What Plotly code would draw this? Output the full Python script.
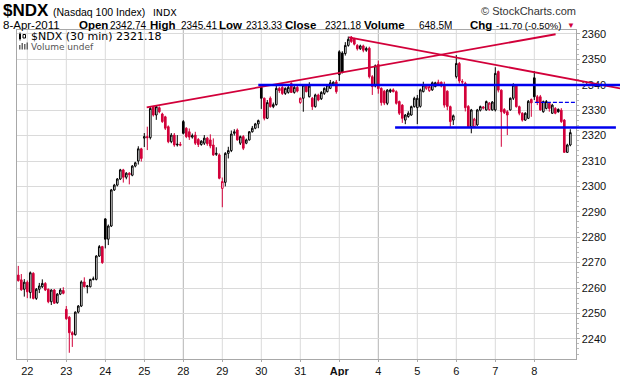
import plotly.graph_objects as go

# ---------------- data ----------------
day_labels = ['22', '23', '24', '25', '28', '29', '30', '31', '<b>Apr</b>', '4', '5', '6', '7', '8']
day_start = [3, 16, 29, 42, 55, 68, 81, 94, 107, 120, 133, 146, 159, 172]
week_start = [55, 120]
y_ticks = [2240, 2250, 2260, 2270, 2280, 2290, 2300, 2310, 2320, 2330, 2340, 2350, 2360]

bar_open = [
    2265.1, 2263.2, 2259.5,
    2262.3, 2258.2, 2265.8, 2255.9, 2259.5, 2260.5, 2261.8, 2259.5, 2254.6, 2259.2, 2254.2, 2257.6, 2259.0,
    2251.6, 2248.5, 2242.4, 2241.6, 2250.5, 2252.9, 2262.4, 2260.5, 2260.5, 2263.4, 2263.4, 2272.6, 2276.3,
    2287.2, 2279.2, 2284.4, 2298.6, 2300.5, 2302.9, 2306.5, 2303.6, 2305.2, 2304.4, 2308.0, 2310.0, 2314.8,
    2319.0, 2319.6, 2319.2, 2331.4, 2328.1, 2331.0, 2328.5, 2327.4, 2323.5, 2317.6, 2320.2, 2316.3, 2316.2,
    2325.5, 2322.9, 2321.5, 2319.4, 2320.2, 2318.5, 2316.5, 2317.0, 2319.0, 2318.3, 2316.3, 2312.6, 2312.4,
    2299.2, 2301.6, 2313.0, 2314.1, 2320.9, 2322.2, 2317.0, 2319.6, 2317.0, 2318.3, 2321.5, 2322.9, 2324.6,
    2339.0, 2334.7, 2326.8, 2334.7, 2331.4, 2332.2, 2338.6, 2339.0, 2336.6, 2337.0, 2340.5, 2337.0, 2339.0,
    2333.0, 2334.7, 2339.9, 2335.3, 2334.7, 2331.4, 2336.0, 2334.5, 2336.6, 2337.3, 2338.6, 2339.8, 2341.1,
    2353.0, 2352.5, 2352.3, 2355.5, 2358.8, 2358.2, 2355.5, 2354.2, 2355.3, 2353.6, 2354.4, 2343.2, 2339.5,
    2348.0, 2338.6, 2337.5, 2332.7, 2337.3, 2338.0, 2337.3, 2333.4, 2332.0, 2326.1, 2327.5, 2328.1, 2331.4,
    2331.0, 2331.5, 2337.3, 2338.6, 2337.7, 2338.0, 2339.3, 2341.0, 2341.0, 2340.0, 2337.5, 2331.4, 2326.1,
    2343.2, 2348.4, 2341.0, 2340.6, 2331.5, 2323.5, 2323.5, 2324.2, 2330.0, 2330.8, 2330.1, 2330.2, 2330.1,
    2330.1, 2345.2, 2337.9, 2330.3, 2329.4, 2330.1, 2334.7, 2339.9, 2331.4, 2328.8, 2326.1, 2326.8, 2334.2,
    2342.74, 2335.3, 2335.3, 2329.4, 2330.7, 2332.7, 2328.8, 2330.7, 2330.3, 2330.0, 2326.1, 2313.4, 2316.3,
]
bar_high = [
    2268.7, 2265.5, 2263.5,
    2263.0, 2266.5, 2266.2, 2260.0, 2262.0, 2263.4, 2262.3, 2259.8, 2259.5, 2259.6, 2258.0, 2259.9, 2260.3,
    2252.9, 2249.0, 2243.0, 2250.8, 2253.3, 2263.0, 2264.2, 2261.2, 2263.6, 2264.5, 2272.9, 2276.9, 2276.6,
    2287.5, 2285.0, 2299.0, 2301.0, 2303.3, 2306.9, 2306.9, 2305.6, 2305.6, 2308.4, 2309.7, 2315.8, 2315.2,
    2321.0, 2323.5, 2331.4, 2331.7, 2332.0, 2331.5, 2329.0, 2327.8, 2324.0, 2321.0, 2321.0, 2320.2, 2317.5,
    2326.1, 2323.3, 2322.8, 2320.8, 2321.5, 2319.0, 2318.2, 2320.2, 2319.5, 2320.5, 2318.9, 2315.4, 2313.0,
    2303.5, 2313.5, 2315.6, 2322.0, 2322.5, 2322.8, 2320.0, 2320.2, 2318.8, 2321.8, 2323.8, 2325.0, 2326.3,
    2339.5, 2335.0, 2334.0, 2335.4, 2333.0, 2340.0, 2339.2, 2339.5, 2339.0, 2340.0, 2341.0, 2339.5, 2340.0,
    2335.0, 2340.2, 2340.3, 2341.0, 2335.2, 2336.5, 2336.5, 2337.5, 2339.0, 2340.3, 2341.9, 2341.4, 2341.9,
    2353.6, 2353.2, 2356.8, 2359.0, 2359.2, 2358.5, 2356.0, 2355.8, 2355.8, 2355.0, 2355.0, 2343.8, 2348.0,
    2349.5, 2339.0, 2338.0, 2338.3, 2338.5, 2338.6, 2337.8, 2333.8, 2332.4, 2328.5, 2329.6, 2331.8, 2335.3,
    2336.0, 2338.5, 2341.2, 2340.0, 2339.8, 2341.3, 2341.2, 2342.0, 2341.3, 2341.2, 2337.8, 2331.8, 2328.3,
    2351.7, 2349.0, 2342.2, 2341.2, 2332.0, 2330.5, 2327.0, 2330.5, 2331.8, 2331.6, 2333.8, 2333.2, 2333.6,
    2346.9, 2345.6, 2338.2, 2330.8, 2330.0, 2335.0, 2340.6, 2340.3, 2331.8, 2329.2, 2329.2, 2334.0, 2334.6,
    2345.41, 2336.0, 2336.0, 2333.8, 2334.0, 2333.2, 2332.5, 2331.2, 2330.7, 2330.8, 2326.5, 2316.8, 2322.5,
]
bar_low = [
    2262.5, 2258.9, 2256.6,
    2256.0, 2255.9, 2255.5, 2255.3, 2258.0, 2260.0, 2258.8, 2254.0, 2253.3, 2253.8, 2253.8, 2257.2, 2257.5,
    2247.5, 2234.5, 2236.8, 2241.3, 2250.0, 2252.5, 2260.2, 2257.9, 2260.2, 2263.0, 2263.0, 2272.2, 2269.5,
    2275.6, 2276.9, 2284.0, 2298.2, 2300.0, 2302.5, 2301.5, 2302.8, 2300.8, 2304.0, 2307.5, 2308.6, 2309.8,
    2315.5, 2314.3, 2318.5, 2327.5, 2326.2, 2328.8, 2325.0, 2322.2, 2317.0, 2317.0, 2315.6, 2315.7, 2315.8,
    2320.5, 2319.0, 2318.3, 2318.8, 2316.3, 2315.5, 2316.0, 2316.3, 2316.0, 2315.0, 2312.0, 2312.0, 2302.8,
    2291.8, 2300.0, 2311.0, 2313.5, 2320.0, 2318.0, 2316.3, 2314.3, 2316.6, 2318.0, 2321.2, 2322.5, 2322.9,
    2330.5, 2326.0, 2326.5, 2331.0, 2330.8, 2331.8, 2336.8, 2336.0, 2336.0, 2336.5, 2336.8, 2336.5, 2337.0,
    2332.5, 2329.4, 2337.0, 2335.0, 2330.1, 2331.0, 2333.5, 2334.0, 2336.0, 2337.0, 2338.3, 2339.5, 2336.5,
    2341.5, 2344.5, 2351.5, 2355.0, 2356.5, 2355.5, 2353.5, 2353.7, 2352.8, 2353.0, 2342.5, 2336.0, 2339.0,
    2336.5, 2331.8, 2332.0, 2332.0, 2336.8, 2337.0, 2332.2, 2328.1, 2325.0, 2324.5, 2327.0, 2327.8, 2331.0,
    2324.5, 2331.0, 2337.0, 2338.0, 2337.2, 2337.6, 2339.0, 2339.6, 2339.0, 2331.0, 2330.0, 2323.5, 2324.2,
    2342.5, 2340.5, 2339.8, 2329.5, 2323.0, 2320.9, 2323.0, 2323.8, 2329.5, 2330.3, 2329.8, 2329.8, 2329.8,
    2329.5, 2337.0, 2315.6, 2328.5, 2320.2, 2329.8, 2334.0, 2331.0, 2328.0, 2325.5, 2325.8, 2326.5, 2327.4,
    2334.0, 2332.0, 2329.8, 2329.0, 2330.3, 2329.4, 2328.5, 2328.4, 2329.0, 2325.0, 2313.33, 2313.33, 2315.8,
]
bar_close = [
    2262.9, 2259.3, 2262.3,
    2258.5, 2266.0, 2255.9, 2259.5, 2260.8, 2261.8, 2259.2, 2254.6, 2259.2, 2254.0, 2257.6, 2259.2, 2257.9,
    2247.9, 2242.4, 2241.6, 2250.5, 2252.9, 2262.4, 2260.5, 2260.8, 2263.4, 2263.6, 2272.6, 2276.3, 2270.0,
    2279.2, 2284.4, 2298.6, 2300.5, 2302.9, 2306.5, 2303.6, 2305.2, 2304.6, 2308.0, 2309.3, 2314.8, 2311.0,
    2319.6, 2319.2, 2330.7, 2328.1, 2331.4, 2329.4, 2325.5, 2322.9, 2317.6, 2320.2, 2316.3, 2316.6, 2316.5,
    2320.9, 2319.6, 2319.4, 2320.0, 2317.0, 2316.5, 2317.8, 2319.0, 2316.8, 2315.9, 2312.4, 2313.0, 2303.2,
    2301.9, 2313.0, 2314.1, 2320.6, 2321.5, 2318.3, 2319.6, 2315.0, 2318.3, 2321.5, 2322.9, 2324.6, 2325.9,
    2334.7, 2326.8, 2333.0, 2331.4, 2332.2, 2338.6, 2337.7, 2336.6, 2338.6, 2339.0, 2337.0, 2339.0, 2337.5,
    2334.7, 2339.9, 2337.3, 2339.5, 2331.4, 2336.0, 2334.0, 2337.0, 2338.6, 2339.9, 2340.8, 2341.0, 2337.3,
    2344.0, 2345.0, 2355.5, 2357.9, 2357.0, 2356.0, 2354.2, 2355.3, 2353.6, 2354.3, 2343.2, 2339.3, 2347.5,
    2338.5, 2333.0, 2332.8, 2337.9, 2338.0, 2337.3, 2332.7, 2328.8, 2326.8, 2328.1, 2328.8, 2331.4, 2334.7,
    2334.7, 2338.0, 2339.9, 2339.5, 2339.3, 2340.8, 2340.8, 2340.0, 2339.5, 2332.0, 2331.5, 2325.5, 2327.8,
    2348.4, 2341.5, 2341.3, 2331.0, 2323.5, 2330.1, 2326.5, 2330.1, 2331.4, 2331.2, 2333.4, 2332.8, 2333.2,
    2344.5, 2337.9, 2329.4, 2329.0, 2328.1, 2334.7, 2339.9, 2331.4, 2328.8, 2326.1, 2328.8, 2333.5, 2332.88,
    2335.3, 2333.0, 2330.1, 2333.4, 2333.4, 2330.7, 2332.0, 2328.8, 2329.4, 2325.5, 2313.4, 2316.3, 2321.18,
]

# trend lines drawn on the chart (bar index, price)
rise_x, rise_y = [42.8, 179.1], [2331.1, 2359.9]
fall_x, fall_y = [110.2, 200.6], [2358.7, 2338.6]
resist_x, resist_y = [80.0, 200.6], [2339.9, 2339.9]
support_x, support_y = [125.6, 199.2], [2323.2, 2323.2]
dash_x, dash_y = [172.2, 185.8], [2333.1, 2333.1]

# ---------------- figure ----------------
RED = '#d2003a'
BLUE = '#0000ee'
W, H = 620, 376
PT, PB = 30, 359           # plot top / bottom pixel
PL, PR = 16.5, 575.5       # plot left / right pixel
BAR_PX = 3.0
X0_PX = 18.3               # pixel of bar 0

n = len(bar_close)
xs = list(range(n))
is_red = [True] + [bar_close[i] < bar_close[i - 1] for i in range(1, n)]


def subset(flag):
    idx = [i for i in range(n) if is_red[i] == flag]
    return ([xs[i] for i in idx], [bar_open[i] for i in idx], [bar_high[i] for i in idx],
            [bar_low[i] for i in idx], [bar_close[i] for i in idx])


fig = go.Figure()
for flag, col in [(False, 'black'), (True, RED)]:
    x_, o_, h_, l_, c_ = subset(flag)
    fig.add_trace(go.Candlestick(
        x=x_, open=o_, high=h_, low=l_, close=c_,
        increasing=dict(line=dict(color=col, width=1), fillcolor='white'),
        decreasing=dict(line=dict(color=col, width=1), fillcolor=col),
        whiskerwidth=0, showlegend=False, hoverinfo='skip',
        xaxis='x', yaxis='y'))

for lx, ly, col, wd, dash in [(rise_x, rise_y, RED, 1.8, 'solid'),
                              (fall_x, fall_y, RED, 1.8, 'solid'),
                              (resist_x, resist_y, BLUE, 2.6, 'solid'),
                              (support_x, support_y, BLUE, 2.6, 'solid'),
                              (dash_x, dash_y, BLUE, 1.2, '4px,2px')]:
    fig.add_trace(go.Scatter(x=lx, y=ly, mode='lines', xaxis='x2', yaxis='y2',
                             line=dict(color=col, width=wd, dash=dash),
                             showlegend=False, hoverinfo='skip'))

xr0 = (PL - X0_PX) / BAR_PX
xr1 = xr0 + (PR - PL) / BAR_PX
x2r0 = (0 - X0_PX) / BAR_PX
x2r1 = x2r0 + W / BAR_PX
Y_TOP, Y_BOT = 2361.57, 2232.05

shapes = []
for ds in day_start:
    shapes.append(dict(type='line', xref='x', yref='paper', x0=ds, x1=ds, y0=0, y1=1,
                       line=dict(color='#b4b4b4' if ds in week_start else '#dadada', width=1),
                       layer='below'))


def px(x):
    return x / W


def py(y):
    return (PB - y) / (PB - PT)


# legend icons (decoration)
shapes += [
    dict(type='rect', xref='paper', yref='paper', x0=px(19), x1=px(21), y0=py(39), y1=py(34),
         fillcolor='black', line=dict(width=0)),
    dict(type='line', xref='paper', yref='paper', x0=px(20), x1=px(20), y0=py(40.5), y1=py(32.5),
         line=dict(color='black', width=1)),
    dict(type='rect', xref='paper', yref='paper', x0=px(23), x1=px(25.5), y0=py(38), y1=py(34.5),
         fillcolor='white', line=dict(color='black', width=1)),
    dict(type='rect', xref='paper', yref='paper', x0=px(19), x1=px(20.5), y0=py(49.5), y1=py(45),
         fillcolor='#666', line=dict(width=0)),
    dict(type='rect', xref='paper', yref='paper', x0=px(21.5), x1=px(23), y0=py(49.5), y1=py(43),
         fillcolor='#666', line=dict(width=0)),
    dict(type='rect', xref='paper', yref='paper', x0=px(24), x1=px(25.5), y0=py(49.5), y1=py(44),
         fillcolor='#666', line=dict(width=0)),
    dict(type='rect', xref='paper', yref='paper', x0=px(26.5), x1=px(28), y0=py(49.5), y1=py(42.5),
         fillcolor='#666', line=dict(width=0)),
]


def ann(text, x, y, size, family='Liberation Sans', color='#000', xanchor='left'):
    return dict(text=text, x=px(x), y=py(y), xref='paper', yref='paper', xanchor=xanchor,
                yanchor='middle', showarrow=False, borderpad=0,
                font=dict(size=size, family=family, color=color))


LBL, NUM = 11.5, 10
annotations = [
    ann('<b>$NDX</b>', 2, 11, 17),
    ann('(Nasdaq 100 Index)', 52, 12, 10.5),
    ann('INDX', 152, 12, 9.5, family='DejaVu Sans'),
    ann('© StockCharts.com', 577, 11, 11, color='#333', xanchor='right'),
    ann('8-Apr-2011', 2, 25, 11.5),
    ann('<b>Open</b>', 78, 25, LBL), ann('2342.74', 109, 25.5, NUM),
    ann('<b>High</b>', 149, 25, LBL), ann('2345.41', 180, 25.5, NUM),
    ann('<b>Low</b>', 218, 25, LBL), ann('2313.33', 245, 25.5, NUM),
    ann('<b>Close</b>', 284, 25, LBL), ann('2321.18', 324, 25.5, NUM),
    ann('<b>Volume</b>', 363, 25, LBL), ann('648.5M', 418, 25.5, NUM),
    ann('<b>Chg</b>', 469, 25, LBL), ann('-11.70 (-0.50%)', 495, 25.5, 9.5),
    ann('▼', 566, 25.5, 8, color=RED),
    ann('$NDX (30 min) 2321.18', 30, 36.5, 11, family='DejaVu Sans'),
    ann('Volume undef', 29.5, 46.5, 9, family='DejaVu Sans', color='#555'),
]

fig.update_layout(
    width=W, height=H,
    margin=dict(l=0, r=0, t=PT, b=H - PB, pad=0),
    paper_bgcolor='white', plot_bgcolor='rgba(0,0,0,0)',
    font=dict(family='Liberation Sans', size=11, color='#111'),
    boxgap=0.22,
    showlegend=False,
    xaxis=dict(domain=[PL / W, PR / W], range=[xr0, xr1], anchor='y',
               tickmode='array', tickvals=day_start, ticktext=day_labels,
               showgrid=False, zeroline=False,
               ticks='outside', ticklen=2, tickcolor='#aaa',
               showline=True, linecolor='#a8a8a8', linewidth=1, mirror=True,
               tickfont=dict(size=11, family='Liberation Sans', color='#111'),
               rangeslider=dict(visible=False), fixedrange=True, automargin=False),
    yaxis=dict(domain=[0, 1], range=[Y_BOT, Y_TOP], anchor='x', side='right',
               tickmode='array', tickvals=y_ticks,
               showgrid=True, gridcolor='#dadada', gridwidth=1, zeroline=False,
               ticks='outside', ticklen=3, tickcolor='#aaa',
               minor=dict(dtick=2, tick0=2240, ticks='outside', ticklen=2,
                          tickcolor='#bbb', showgrid=False),
               showline=True, linecolor='#a8a8a8', linewidth=1, mirror=True,
               tickfont=dict(size=11, family='Liberation Sans', color='#111'),
               fixedrange=True, automargin=False),
    xaxis2=dict(domain=[0, 1], range=[x2r0, x2r1], anchor='y2', visible=False, fixedrange=True),
    yaxis2=dict(domain=[0, 1], range=[Y_BOT, Y_TOP], anchor='x2', visible=False, fixedrange=True),
    shapes=shapes,
    annotations=annotations,
)

fig.write_html('out.html', config={'displayModeBar': False},
               post_script="document.body.style.margin='0';document.body.style.padding='0';")
